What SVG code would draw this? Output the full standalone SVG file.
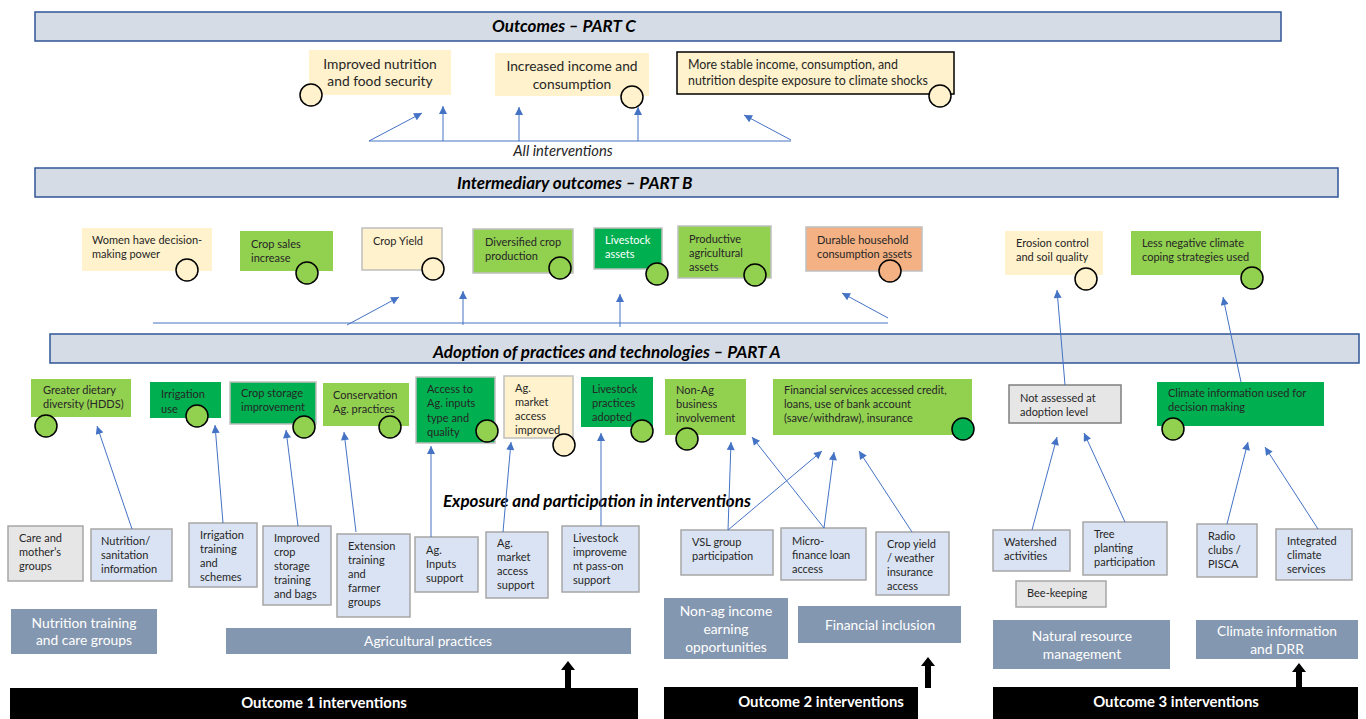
<svg xmlns="http://www.w3.org/2000/svg" width="1366" height="719" viewBox="0 0 1366 719">
  <style>
    text { font-family: Lato, "Liberation Sans", sans-serif; fill: #262626; }
    .hdr rect { fill: #d6dce5; stroke: #2f5597; stroke-width: 1.5; }
    .hdr text { font-size: 17px; font-weight: bold; font-style: italic; fill: #000; }
    .cream { fill: #fff2cc; }
    .lime { fill: #92d050; }
    .green { fill: #00b050; }
    .peach { fill: #f4b183; }
    .edge { stroke: #bfbfbf; stroke-width: 1.5; }
    .dot { stroke: #000; stroke-width: 1.5; }
    .t13 { font-size: 13.8px; }
    .t12 { font-size: 12.4px; }
    .t11 { font-size: 11px; }
    .in rect { fill: #dae3f3; stroke: #a6a6a6; stroke-width: 1.5; }
    .in rect.grey { fill: #e7e6e6; }
    .in text { font-size: 11px; }
    .cat rect { fill: #8497b0; }
    .cat text { font-size: 13.8px; fill: #fff; text-anchor: middle; }
    .bar rect { fill: #000; }
    .bar text { font-size: 14.9px; font-weight: bold; fill: #fff; text-anchor: middle; }
    #connectors line { stroke: #4472c4; stroke-width: 1; fill: none; }
    .up { fill: #000; }
  </style>
  <defs>
    <marker id="arr" viewBox="0 0 10 10" refX="10" refY="5" markerWidth="9" markerHeight="8" markerUnits="userSpaceOnUse" orient="auto">
      <path d="M0,0 L10,5 L0,10 z" fill="#4472c4"/>
    </marker>
  </defs>
  <rect width="1366" height="719" fill="#fff"/>

  <!-- section headers -->
  <g id="hdr-c" class="hdr"><rect x="35" y="12" width="1246" height="29"/><text x="492" y="32">Outcomes – PART C</text></g>
  <g id="hdr-b" class="hdr"><rect x="35" y="168" width="1303" height="29"/><text x="457" y="189">Intermediary outcomes – PART B</text></g>
  <g id="hdr-a" class="hdr"><rect x="50" y="334" width="1309" height="29"/><text x="433" y="358">Adoption of practices and technologies – PART A</text></g>

  <!-- PART C outcomes -->
  <g id="c-nutrition">
    <rect x="309" y="50" width="142" height="45" class="cream"/>
    <text class="t13" text-anchor="middle"><tspan x="380" y="69">Improved nutrition</tspan><tspan x="380" y="86">and food security</tspan></text>
    <circle cx="311" cy="95" r="11" class="cream dot"/>
  </g>
  <g id="c-income">
    <rect x="495" y="53" width="154" height="43" class="cream"/>
    <text class="t13" text-anchor="middle"><tspan x="572" y="71">Increased income and</tspan><tspan x="572" y="89">consumption</tspan></text>
    <circle cx="632" cy="97" r="11" class="cream dot"/>
  </g>
  <g id="c-stable">
    <rect x="677" y="52" width="277" height="42" class="cream" stroke="#000" stroke-width="1.5"/>
    <text class="t12"><tspan x="688" y="69">More stable income, consumption, and</tspan><tspan x="688" y="85">nutrition despite exposure to climate shocks</tspan></text>
    <circle cx="940" cy="96" r="11" class="cream dot"/>
  </g>
  <text x="563" y="156" font-size="14.8" font-style="italic" text-anchor="middle">All interventions</text>

  <!-- PART B intermediary outcomes -->
  <g id="b-women">
    <rect x="82" y="228" width="130" height="43" class="cream"/>
    <text class="t11"><tspan x="92" y="244">Women have decision-</tspan><tspan x="92" y="258">making power</tspan></text>
    <circle cx="187" cy="270" r="11" class="cream dot"/>
  </g>
  <g id="b-sales">
    <rect x="240" y="231" width="93" height="40" class="lime"/>
    <text class="t11"><tspan x="251" y="248">Crop sales</tspan><tspan x="251" y="262">increase</tspan></text>
    <circle cx="307" cy="273" r="11" class="lime dot"/>
  </g>
  <g id="b-yield">
    <rect x="362" y="228" width="80" height="42" class="cream edge"/>
    <text class="t11" x="373" y="245">Crop Yield</text>
    <circle cx="433" cy="269" r="11" class="cream dot"/>
  </g>
  <g id="b-diversified">
    <rect x="473" y="229" width="100" height="44" class="lime edge"/>
    <text class="t11"><tspan x="485" y="246">Diversified crop</tspan><tspan x="485" y="260">production</tspan></text>
    <circle cx="560" cy="268" r="11" class="lime dot"/>
  </g>
  <g id="b-livestock">
    <rect x="594" y="228" width="68" height="41" class="green edge"/>
    <text class="t11" style="fill:#fff"><tspan x="605" y="244">Livestock</tspan><tspan x="605" y="258">assets</tspan></text>
    <circle cx="657" cy="274" r="11" class="lime dot"/>
  </g>
  <g id="b-productive">
    <rect x="678" y="226" width="93" height="52" class="lime edge"/>
    <text class="t11"><tspan x="689" y="243">Productive</tspan><tspan x="689" y="257">agricultural</tspan><tspan x="689" y="271">assets</tspan></text>
    <circle cx="755" cy="275" r="11" class="lime dot"/>
  </g>
  <g id="b-durable">
    <rect x="806" y="227" width="116" height="44" class="peach edge"/>
    <text class="t11"><tspan x="817" y="244">Durable household</tspan><tspan x="817" y="258">consumption assets</tspan></text>
    <circle cx="890" cy="271" r="11" class="peach dot"/>
  </g>
  <g id="b-erosion">
    <rect x="1005" y="231" width="98" height="44" class="cream"/>
    <text class="t11"><tspan x="1016" y="247">Erosion control</tspan><tspan x="1016" y="261">and soil quality</tspan></text>
    <circle cx="1086" cy="279" r="11" class="cream dot"/>
  </g>
  <g id="b-coping">
    <rect x="1131" y="231" width="130" height="44" class="lime"/>
    <text class="t11"><tspan x="1142" y="247">Less negative climate</tspan><tspan x="1142" y="261">coping strategies used</tspan></text>
    <circle cx="1252" cy="278" r="11" class="lime dot"/>
  </g>

  <!-- PART A adoption -->
  <g id="a-diet">
    <rect x="31" y="379" width="100" height="38" class="lime"/>
    <text class="t11"><tspan x="43" y="394">Greater dietary</tspan><tspan x="43" y="408">diversity (HDDS)</tspan></text>
    <circle cx="46" cy="426" r="11" class="lime dot"/>
  </g>
  <g id="a-irrigation">
    <rect x="150" y="382" width="71" height="36" class="green"/>
    <text class="t11"><tspan x="161" y="398">Irrigation</tspan><tspan x="161" y="413">use</tspan></text>
    <circle cx="197" cy="416" r="11" class="lime dot"/>
  </g>
  <g id="a-storage">
    <rect x="230" y="382" width="86" height="42" class="green edge"/>
    <text class="t11"><tspan x="241" y="397">Crop storage</tspan><tspan x="241" y="411">improvement</tspan></text>
    <circle cx="304" cy="427" r="11" class="lime dot"/>
  </g>
  <g id="a-conservation">
    <rect x="323" y="383" width="86" height="43" class="lime"/>
    <text class="t11"><tspan x="333" y="399">Conservation</tspan><tspan x="333" y="413">Ag. practices</tspan></text>
    <circle cx="390" cy="427" r="11" class="lime dot"/>
  </g>
  <g id="a-inputs">
    <rect x="416" y="377" width="79" height="66" class="green edge"/>
    <text class="t11"><tspan x="427" y="393">Access to</tspan><tspan x="427" y="407">Ag. inputs</tspan><tspan x="427" y="422">type and</tspan><tspan x="427" y="436">quality</tspan></text>
    <circle cx="487" cy="431" r="11" class="lime dot"/>
  </g>
  <g id="a-market">
    <rect x="504" y="376" width="69" height="62" class="cream edge"/>
    <text class="t11"><tspan x="515" y="392">Ag.</tspan><tspan x="515" y="406">market</tspan><tspan x="515" y="420">access</tspan><tspan x="515" y="434">improved</tspan></text>
    <circle cx="564" cy="445" r="11" class="cream dot"/>
  </g>
  <g id="a-livestock">
    <rect x="581" y="377" width="72" height="50" class="green"/>
    <text class="t11"><tspan x="592" y="393">Livestock</tspan><tspan x="592" y="407">practices</tspan><tspan x="592" y="421">adopted</tspan></text>
    <circle cx="642" cy="431" r="11" class="lime dot"/>
  </g>
  <g id="a-nonag">
    <rect x="665" y="379" width="81" height="56" class="lime"/>
    <text class="t11"><tspan x="676" y="394">Non-Ag</tspan><tspan x="676" y="408">business</tspan><tspan x="676" y="422">involvement</tspan></text>
    <circle cx="687" cy="439" r="11" class="lime dot"/>
  </g>
  <g id="a-finance">
    <rect x="773" y="379" width="199" height="56" class="lime"/>
    <text class="t11"><tspan x="784" y="394">Financial services accessed credit,</tspan><tspan x="784" y="408">loans, use of bank account</tspan><tspan x="784" y="422">(save/withdraw), insurance</tspan></text>
    <circle cx="963" cy="429" r="11" class="green dot"/>
  </g>
  <g id="a-notassessed">
    <rect x="1009" y="385" width="112" height="38" fill="#e7e6e6" stroke="#7f7f7f" stroke-width="1.5"/>
    <text class="t11"><tspan x="1020" y="402">Not assessed at</tspan><tspan x="1020" y="416">adoption level</tspan></text>
  </g>
  <g id="a-climate">
    <rect x="1157" y="382" width="167" height="44" class="green"/>
    <text class="t11"><tspan x="1168" y="397">Climate information used for</tspan><tspan x="1168" y="411">decision making</tspan></text>
    <circle cx="1173" cy="429" r="11" class="lime dot"/>
  </g>

  <text x="443" y="507" font-size="17" font-weight="bold" font-style="italic" style="fill:#000">Exposure and participation in interventions</text>

  <!-- interventions -->
  <g id="i-care" class="in"><rect class="grey" x="8" y="526" width="75" height="55"/><text><tspan x="19" y="542">Care and</tspan><tspan x="19" y="556">mother’s</tspan><tspan x="19" y="570">groups</tspan></text></g>
  <g id="i-nutrition" class="in"><rect x="91" y="529" width="81" height="52"/><text><tspan x="101" y="545">Nutrition/</tspan><tspan x="101" y="559">sanitation</tspan><tspan x="101" y="573">information</tspan></text></g>
  <g id="i-irrigation" class="in"><rect x="189" y="523" width="68" height="64"/><text><tspan x="200" y="539">Irrigation</tspan><tspan x="200" y="553">training</tspan><tspan x="200" y="567">and</tspan><tspan x="200" y="581">schemes</tspan></text></g>
  <g id="i-storage" class="in"><rect x="263" y="526" width="68" height="79"/><text><tspan x="274" y="542">Improved</tspan><tspan x="274" y="556">crop</tspan><tspan x="274" y="570">storage</tspan><tspan x="274" y="584">training</tspan><tspan x="274" y="598">and bags</tspan></text></g>
  <g id="i-extension" class="in"><rect x="337" y="534" width="73" height="83"/><text><tspan x="348" y="550">Extension</tspan><tspan x="348" y="564">training</tspan><tspan x="348" y="578">and</tspan><tspan x="348" y="592">farmer</tspan><tspan x="348" y="606">groups</tspan></text></g>
  <g id="i-inputs" class="in"><rect x="415" y="537" width="63" height="55"/><text><tspan x="426" y="554">Ag.</tspan><tspan x="426" y="568">Inputs</tspan><tspan x="426" y="582">support</tspan></text></g>
  <g id="i-market" class="in"><rect x="486" y="532" width="62" height="66"/><text><tspan x="497" y="547">Ag.</tspan><tspan x="497" y="561">market</tspan><tspan x="497" y="575">access</tspan><tspan x="497" y="589">support</tspan></text></g>
  <g id="i-livestock" class="in"><rect x="562" y="526" width="77" height="66"/><text><tspan x="573" y="542">Livestock</tspan><tspan x="573" y="556">improveme</tspan><tspan x="573" y="570">nt pass-on</tspan><tspan x="573" y="584">support</tspan></text></g>
  <g id="i-vsl" class="in"><rect x="681" y="530" width="92" height="45"/><text><tspan x="692" y="546">VSL group</tspan><tspan x="692" y="560">participation</tspan></text></g>
  <g id="i-micro" class="in"><rect x="781" y="528" width="85" height="52"/><text><tspan x="792" y="545">Micro-</tspan><tspan x="792" y="559">finance loan</tspan><tspan x="792" y="573">access</tspan></text></g>
  <g id="i-insurance" class="in"><rect x="876" y="532" width="73" height="63"/><text><tspan x="887" y="548">Crop yield</tspan><tspan x="887" y="562">/ weather</tspan><tspan x="887" y="576">insurance</tspan><tspan x="887" y="590">access</tspan></text></g>
  <g id="i-watershed" class="in"><rect x="993" y="530" width="77" height="41"/><text><tspan x="1004" y="546">Watershed</tspan><tspan x="1004" y="560">activities</tspan></text></g>
  <g id="i-tree" class="in"><rect x="1083" y="522" width="84" height="53"/><text><tspan x="1094" y="538">Tree</tspan><tspan x="1094" y="552">planting</tspan><tspan x="1094" y="566">participation</tspan></text></g>
  <g id="i-bee" class="in"><rect class="grey" x="1016" y="581" width="90" height="26"/><text x="1027" y="597">Bee-keeping</text></g>
  <g id="i-radio" class="in"><rect x="1197" y="524" width="60" height="53"/><text><tspan x="1208" y="540">Radio</tspan><tspan x="1208" y="554">clubs /</tspan><tspan x="1208" y="568">PISCA</tspan></text></g>
  <g id="i-integrated" class="in"><rect x="1276" y="529" width="76" height="51"/><text><tspan x="1287" y="545">Integrated</tspan><tspan x="1287" y="559">climate</tspan><tspan x="1287" y="573">services</tspan></text></g>

  <!-- intervention categories -->
  <g id="cat-nutrition" class="cat"><rect x="11" y="609" width="146" height="45"/><text><tspan x="84" y="628">Nutrition training</tspan><tspan x="84" y="645">and care groups</tspan></text></g>
  <g id="cat-agri" class="cat"><rect x="226" y="628" width="405" height="26"/><text x="428" y="646">Agricultural practices</text></g>
  <g id="cat-nonag" class="cat"><rect x="664" y="598" width="124" height="61"/><text><tspan x="726" y="616">Non-ag income</tspan><tspan x="726" y="634">earning</tspan><tspan x="726" y="652">opportunities</tspan></text></g>
  <g id="cat-finance" class="cat"><rect x="798" y="606" width="163" height="37"/><text x="880" y="630">Financial inclusion</text></g>
  <g id="cat-nrm" class="cat"><rect x="993" y="620" width="177" height="49"/><text><tspan x="1082" y="641">Natural resource</tspan><tspan x="1082" y="659">management</tspan></text></g>
  <g id="cat-climate" class="cat"><rect x="1196" y="620" width="162" height="39"/><text><tspan x="1277" y="636">Climate information</tspan><tspan x="1277" y="654">and DRR</tspan></text></g>

  <!-- outcome bars -->
  <g id="bar-1" class="bar"><rect x="10" y="688" width="628" height="31"/><text x="324" y="708">Outcome 1 interventions</text></g>
  <g id="bar-2" class="bar"><rect x="664" y="687" width="254" height="32"/><text x="821" y="707">Outcome 2 interventions</text></g>
  <g id="bar-3" class="bar"><rect x="993" y="687" width="365" height="32"/><text x="1176" y="707">Outcome 3 interventions</text></g>
  <path class="up" d="M565,689 V670 H561 L568,661 L575,670 H571 V689 Z"/>
  <path class="up" d="M925,688 V666 H921 L928,657 L935,666 H931 V688 Z"/>
  <path class="up" d="M1296,689 V672 H1292 L1299,663 L1306,672 H1302 V689 Z"/>

  <!-- connectors -->
  <g id="connectors">
    <!-- to PART C -->
    <line x1="369" y1="141" x2="791" y2="141"/>
    <line x1="369" y1="141" x2="422" y2="113" marker-end="url(#arr)"/>
    <line x1="443" y1="141" x2="443" y2="106" marker-end="url(#arr)"/>
    <line x1="519" y1="141" x2="519" y2="107" marker-end="url(#arr)"/>
    <line x1="638" y1="141" x2="638" y2="107" marker-end="url(#arr)"/>
    <line x1="791" y1="140" x2="744" y2="115" marker-end="url(#arr)"/>
    <!-- to PART B -->
    <line x1="153" y1="323" x2="888" y2="323"/>
    <line x1="347" y1="325" x2="399" y2="297" marker-end="url(#arr)"/>
    <line x1="463" y1="325" x2="463" y2="291" marker-end="url(#arr)"/>
    <line x1="620" y1="327" x2="620" y2="294" marker-end="url(#arr)"/>
    <line x1="888" y1="318" x2="842" y2="293" marker-end="url(#arr)"/>
    <line x1="1065" y1="385" x2="1057" y2="290" marker-end="url(#arr)"/>
    <line x1="1241" y1="382" x2="1223" y2="297" marker-end="url(#arr)"/>
    <!-- to PART A -->
    <line x1="132" y1="529" x2="97" y2="426" marker-end="url(#arr)"/>
    <line x1="223" y1="523" x2="215" y2="425" marker-end="url(#arr)"/>
    <line x1="298" y1="526" x2="286" y2="430" marker-end="url(#arr)"/>
    <line x1="356" y1="532" x2="344" y2="432" marker-end="url(#arr)"/>
    <line x1="431" y1="537" x2="431" y2="446" marker-end="url(#arr)"/>
    <line x1="503" y1="532" x2="511" y2="442" marker-end="url(#arr)"/>
    <line x1="601" y1="526" x2="601" y2="433" marker-end="url(#arr)"/>
    <line x1="728" y1="530" x2="731" y2="442" marker-end="url(#arr)"/>
    <line x1="728" y1="530" x2="822" y2="451" marker-end="url(#arr)"/>
    <line x1="824" y1="528" x2="752" y2="437" marker-end="url(#arr)"/>
    <line x1="824" y1="528" x2="834" y2="452" marker-end="url(#arr)"/>
    <line x1="912" y1="532" x2="859" y2="451" marker-end="url(#arr)"/>
    <line x1="1032" y1="530" x2="1057" y2="437" marker-end="url(#arr)"/>
    <line x1="1125" y1="522" x2="1084" y2="433" marker-end="url(#arr)"/>
    <line x1="1227" y1="524" x2="1248" y2="442" marker-end="url(#arr)"/>
    <line x1="1318" y1="529" x2="1265" y2="447" marker-end="url(#arr)"/>
  </g>
</svg>
